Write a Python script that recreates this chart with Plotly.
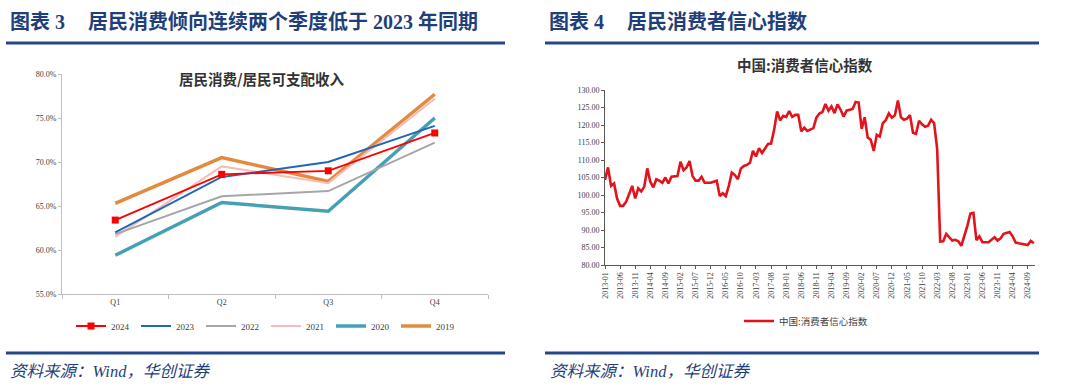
import plotly.graph_objects as go

# ---------------- data ----------------
quarters = ["Q1", "Q2", "Q3", "Q4"]
ratio_2024 = [63.4, 68.6, 69.0, 73.3]
ratio_2023 = [62.0, 68.3, 70.0, 74.1]
ratio_2022 = [61.8, 66.1, 66.7, 72.2]
ratio_2021 = [61.5, 69.5, 67.6, 77.2]
ratio_2020 = [59.4, 65.4, 64.4, 75.0]
ratio_2019 = [65.3, 70.5, 67.8, 77.7]

months = [f"{y}-{m:02d}" for y in range(2013, 2025) for m in range(1, 13)][:143]
cci = [
    104.3, 107.9, 102.6, 103.3, 99.0, 96.9, 96.9, 98.1, 100.3, 102.6, 99.0, 101.9,
    101.0, 102.4, 107.6, 103.8, 102.2, 104.5, 104.1, 103.5, 105.0, 103.3, 105.2, 105.4,
    105.4, 109.5, 107.1, 107.9, 109.7, 105.4, 104.1, 104.1, 105.2, 103.5, 103.5, 103.5,
    103.8, 104.1, 99.7, 100.5, 99.7, 102.6, 106.4, 105.7, 104.5, 107.6, 108.3, 108.6,
    109.2, 112.6, 111.0, 113.4, 112.0, 113.3, 114.6, 114.7, 118.6, 123.9, 121.3, 122.6,
    122.3, 124.0, 122.3, 122.9, 122.9, 118.2, 119.2, 118.3, 118.6, 119.1, 122.1, 123.3,
    123.7, 126.0, 124.1, 125.3, 123.4, 125.9, 124.4, 122.4, 124.1, 124.3, 124.6, 126.6,
    126.4, 118.9, 122.2, 116.4, 115.8, 112.6, 117.2, 116.7, 120.5, 121.4, 123.3, 122.1,
    122.8, 127.0, 122.2, 121.5, 121.8, 122.8, 117.8, 117.5, 121.2, 120.2, 119.5, 119.8,
    121.5, 120.5, 113.2, 86.7, 86.8, 88.9, 87.9, 87.0, 87.2, 86.8, 85.5, 88.3,
    91.2, 94.7, 94.9, 87.1, 88.2, 86.5, 86.6, 86.5, 87.2, 87.9, 87.0, 87.6,
    88.9, 89.1, 89.4, 88.2, 86.4, 86.2, 86.0, 85.8, 85.7, 86.9, 86.2,
]
month_ticks = months[::5]

# ---------------- helpers ----------------
W, H = 1080, 388
def px(x):
    return x / W
def py(y):
    return 1 - y / H

SERIF = "Liberation Serif, Noto Sans CJK SC"
CJK = "Noto Sans CJK SC, Liberation Serif"
NAVY = "#1F3F7A"

fig = go.Figure()

left_series = [
    ("2019", ratio_2019, "#E38A3E", 3.5, False),
    ("2020", ratio_2020, "#46A0B4", 3.5, False),
    ("2021", ratio_2021, "#F3BDB8", 2.0, False),
    ("2022", ratio_2022, "#A6A6A6", 2.0, False),
    ("2023", ratio_2023, "#1F68B8", 2.0, False),
    ("2024", ratio_2024, "#FF0000", 1.8, True),
]
for name, vals, color, width, mk in left_series:
    fig.add_trace(go.Scatter(
        x=quarters, y=vals, name=name, mode="lines+markers" if mk else "lines",
        line=dict(color=color, width=width),
        marker=dict(symbol="square", size=7, color=color),
        xaxis="x", yaxis="y", legend="legend",
    ))

fig.add_trace(go.Scatter(
    x=months, y=cci, name="中国:消费者信心指数", mode="lines",
    line=dict(color="#E3131B", width=2.6),
    xaxis="x2", yaxis="y2", legend="legend2",
))

tickfont = dict(family=SERIF, size=8, color="#404040")

fig.update_layout(
    width=W, height=H,
    margin=dict(l=0, r=0, t=0, b=0, autoexpand=False),
    paper_bgcolor="white", plot_bgcolor="white",
    showlegend=True,
    xaxis=dict(domain=[px(62), px(488)], type="category", range=[-0.5, 3.5],
               tickson="boundaries", ticks="outside", ticklen=4, tickcolor="#BFBFBF",
               showline=True, linecolor="#BFBFBF", linewidth=1, showgrid=False,
               zeroline=False, tickfont=tickfont, anchor="y"),
    yaxis=dict(domain=[py(294), py(74)], range=[55, 80], dtick=5,
               tickformat=".1f", ticksuffix="%", ticks="outside", ticklen=3,
               tickcolor="#BFBFBF", showline=True, linecolor="#BFBFBF",
               showgrid=False, zeroline=False, tickfont=tickfont, anchor="x"),
    xaxis2=dict(domain=[px(605), px(1035)], type="category", range=[0, 142.4],
                tickmode="array", tickvals=month_ticks, ticktext=month_ticks,
                tickangle=-90, ticks="outside", ticklen=3, tickcolor="#595959",
                showline=True, linecolor="#595959", linewidth=1, showgrid=False,
                zeroline=False, tickfont=tickfont, anchor="y2"),
    yaxis2=dict(domain=[py(265), py(90)], range=[80, 130], dtick=5,
                tickformat=".2f", ticks="outside", ticklen=3, tickcolor="#595959",
                showline=True, linecolor="#595959", showgrid=False, zeroline=False,
                tickfont=tickfont, anchor="x2"),
    legend=dict(orientation="h", x=px(266), xanchor="center", y=py(326),
                yanchor="middle", traceorder="reversed",
                font=dict(family=SERIF, size=9, color="#404040"),
                itemwidth=30, entrywidth=20, entrywidthmode="pixels",
                bgcolor="rgba(0,0,0,0)"),
    legend2=dict(orientation="h", x=px(806), xanchor="center", y=py(321),
                 yanchor="middle", font=dict(family=CJK, size=9.5, color="#404040"),
                 itemwidth=30, bgcolor="rgba(0,0,0,0)"),
)

annotations = [
    # headers
    dict(text="<b>图表 3</b>", x=px(8), y=py(22), font=dict(family=SERIF, size=20, color=NAVY)),
    dict(text="<b>居民消费倾向连续两个季度低于 2023 年同期</b>", x=px(86), y=py(22),
         font=dict(family=SERIF, size=20, color=NAVY)),
    dict(text="<b>图表 4</b>", x=px(547), y=py(22), font=dict(family=SERIF, size=20, color=NAVY)),
    dict(text="<b>居民消费者信心指数</b>", x=px(625), y=py(22),
         font=dict(family=SERIF, size=20, color=NAVY)),
    # footers
    dict(text="<i>资料来源：Wind，华创证券</i>", x=px(8), y=py(371),
         font=dict(family=SERIF, size=16.5, color=NAVY)),
    dict(text="<i>资料来源：Wind，华创证券</i>", x=px(548), y=py(371),
         font=dict(family=SERIF, size=16.5, color=NAVY)),
]
for a in annotations:
    a.update(xref="paper", yref="paper", xanchor="left", yanchor="middle", showarrow=False)

annotations += [
    dict(text="<b>居民消费/居民可支配收入</b>", x=px(262), y=py(79), xref="paper", yref="paper",
         xanchor="center", yanchor="middle", showarrow=False,
         font=dict(family=CJK, size=14.5, color="#333333")),
    dict(text="<b>中国:消费者信心指数</b>", x=px(805), y=py(65), xref="paper", yref="paper",
         xanchor="center", yanchor="middle", showarrow=False,
         font=dict(family=CJK, size=14.5, color="#333333")),
]
fig.update_layout(annotations=annotations)

shapes = []
for x0, x1 in [(6, 505), (545, 1039)]:
    for yy in (43, 353):
        shapes.append(dict(type="line", xref="paper", yref="paper",
                           x0=px(x0), x1=px(x1), y0=py(yy), y1=py(yy),
                           line=dict(color="#24478A", width=3)))
fig.update_layout(shapes=shapes)

fig.write_html("out.html", config={"displayModeBar": False},
               post_script="document.body.style.margin='0';document.body.style.padding='0';")
